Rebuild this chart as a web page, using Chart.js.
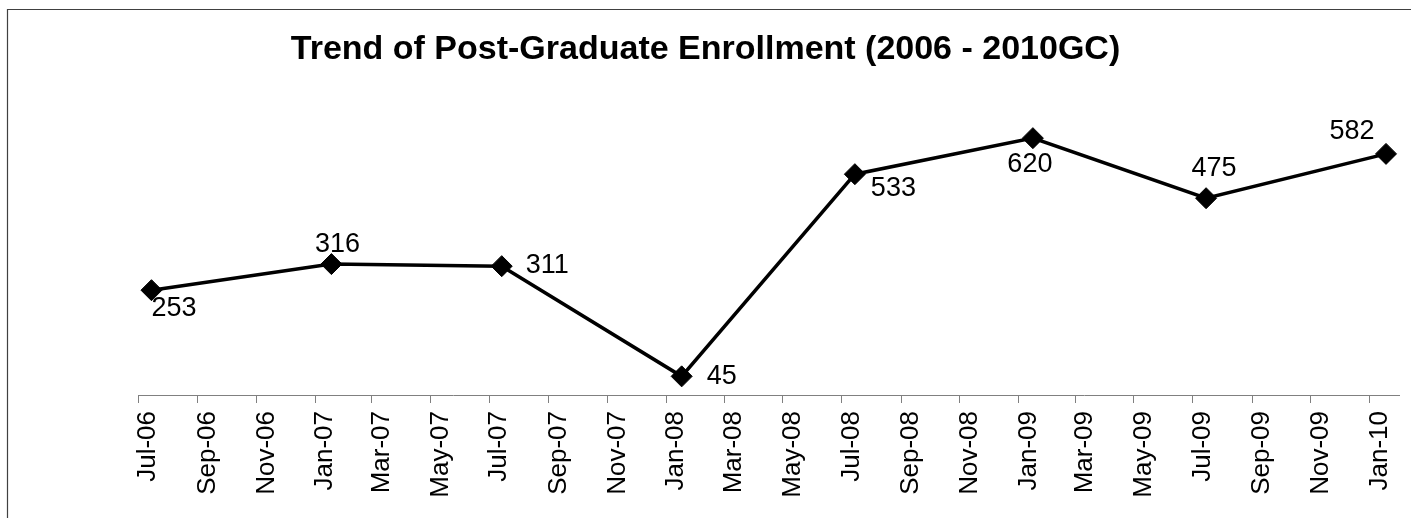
<!DOCTYPE html>
<html>
<head>
<meta charset="utf-8">
<script src="https://cdn.jsdelivr.net/npm/chart.js@4/dist/chart.umd.min.js"></script>
<style>
  html, body { margin: 0; padding: 0; background: #fff; }
  #wrap { position: relative; width: 1411px; height: 518px; }
</style>
</head>
<body>
<div id="wrap"><canvas id="enroll_chart" width="1411" height="518"></canvas></div>
<script>
// x axis tick labels (every two months)
var tickLabels = ['Jul-06', 'Sep-06', 'Nov-06', 'Jan-07', 'Mar-07', 'May-07', 'Jul-07', 'Sep-07',
    'Nov-07', 'Jan-08', 'Mar-08', 'May-08', 'Jul-08', 'Sep-08', 'Nov-08', 'Jan-09',
    'Mar-09', 'May-09', 'Jul-09', 'Sep-09', 'Nov-09', 'Jan-10'];
var axisEnd = 'Feb-10';

// enrollment per intake
var categories = ['Jul-06', 'Jan-07', 'Jul-07', 'Jan-08', 'Jul-08', 'Jan-09', 'Jul-09', 'Jan-10'];
var pointDays = [15, 18, 14, 17, 15, 16, 15, 18];
var enrollment = [253, 316, 311, 45, 533, 620, 475, 582];

var titleText = 'Trend of Post-Graduate Enrollment (2006 - 2010GC)';
var fontFamily = "'Liberation Sans', Arial, Helvetica, sans-serif";

var months = { Jan: 0, Feb: 1, Mar: 2, Apr: 3, May: 4, Jun: 5, Jul: 6, Aug: 7, Sep: 8, Oct: 9, Nov: 10, Dec: 11 };
var origin = Date.UTC(2006, 6, 1);

// days since 1 Jul 2006 for a "Mon-yy" label
function toDays(label, day) {
    var parts = label.split('-');
    return (Date.UTC(2000 + parseInt(parts[1], 10), months[parts[0]], day || 1) - origin) / 86400000;
}

var tickDays = tickLabels.map(function (l) { return toDays(l, 1); });
var points = categories.map(function (c, i) { return { x: toDays(c, pointDays[i]), y: enrollment[i] }; });

// where each value label sits relative to its marker
var labelPlacement = [
    { dx: 0, dy: 26, align: 'left' },
    { dx: 6, dy: -12, align: 'center' },
    { dx: 24, dy: 7, align: 'left' },
    { dx: 25, dy: 8, align: 'left' },
    { dx: 16, dy: 22, align: 'left' },
    { dx: -3, dy: 34, align: 'center' },
    { dx: 8, dy: -22, align: 'center' },
    { dx: -34, dy: -15, align: 'center' }
];

var framePlugin = {
    id: 'frame',
    beforeDraw: function (chart) {
        var c = chart.ctx;
        c.save();
        c.fillStyle = '#fff';
        c.fillRect(0, 0, chart.width, chart.height);
        c.strokeStyle = '#404040';
        c.lineWidth = 1.2;
        c.beginPath();
        c.moveTo(7.5, chart.height);
        c.lineTo(7.5, 9.5);
        c.lineTo(chart.width, 9.5);
        c.stroke();
        c.restore();
    },
    afterDraw: function (chart) {
        var c = chart.ctx;
        c.save();
        c.fillStyle = '#000';
        c.font = 'bold 34px ' + fontFamily;
        c.textAlign = 'center';
        c.textBaseline = 'alphabetic';
        c.fillText(titleText, chart.width / 2, 59);
        c.restore();
    }
};

var valueLabels = {
    id: 'valueLabels',
    afterDatasetsDraw: function (chart) {
        var c = chart.ctx;
        var meta = chart.getDatasetMeta(0);
        c.save();
        c.fillStyle = '#000';
        c.font = '27px ' + fontFamily;
        c.textBaseline = 'alphabetic';
        meta.data.forEach(function (pt, i) {
            var p = labelPlacement[i];
            c.textAlign = p.align;
            c.fillText(String(enrollment[i]), pt.x + p.dx, pt.y + p.dy);
        });
        c.restore();
    }
};

var ctx = document.getElementById('enroll_chart').getContext('2d');
var enroll_chart = new Chart(ctx, {
    type: 'line',
    data: {
        datasets: [{
            label: 'Enrollment',
            data: points,
            borderColor: '#000',
            backgroundColor: '#000',
            borderWidth: 3.5,
            tension: 0,
            pointStyle: 'rectRot',
            pointRadius: 10.5,
            pointBorderWidth: 1,
            pointBackgroundColor: '#000',
            pointBorderColor: '#000',
            clip: false
        }]
    },
    options: {
        responsive: false,
        animation: false,
        events: [],
        layout: { padding: { left: 138, right: 11, top: 105, bottom: 0 } },
        plugins: {
            legend: { display: false },
            title: { display: false },
            tooltip: { enabled: false }
        },
        scales: {
            x: {
                type: 'linear',
                min: 0,
                max: toDays(axisEnd, 1),
                afterBuildTicks: function (scale) {
                    scale.ticks = tickDays.map(function (v) { return { value: v }; });
                },
                afterFit: function (scale) { scale.height = 123; },
                grid: {
                    drawOnChartArea: false,
                    drawTicks: true,
                    tickLength: 8,
                    color: '#808080',
                    lineWidth: 1
                },
                border: { display: true, color: '#808080', width: 1 },
                ticks: {
                    autoSkip: false,
                    maxRotation: 90,
                    minRotation: 90,
                    padding: 8,
                    labelOffset: 10,
                    color: '#000',
                    font: { family: fontFamily, size: 26 },
                    callback: function (value, index) { return tickLabels[index]; }
                }
            },
            y: {
                display: false,
                min: 0,
                max: 700
            }
        }
    },
    plugins: [framePlugin, valueLabels]
});
</script>
</body>
</html>
